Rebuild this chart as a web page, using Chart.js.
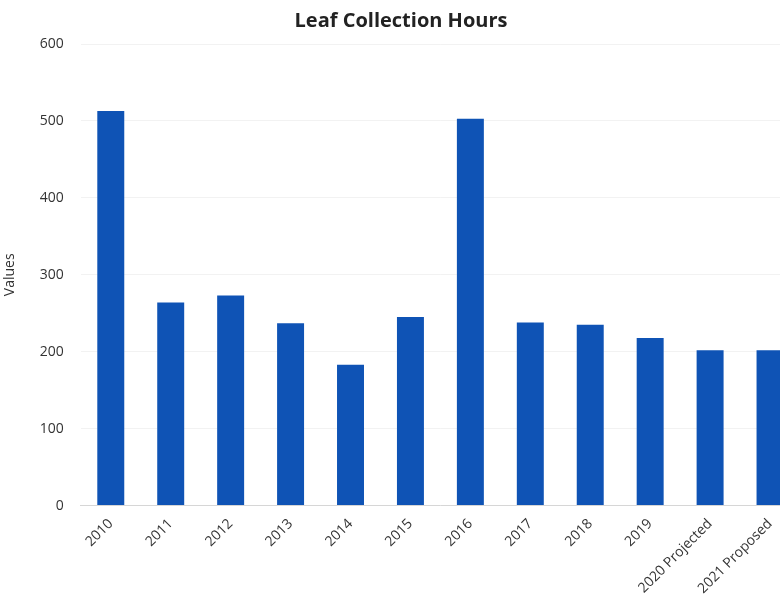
<!DOCTYPE html>
<html>
<head>
<meta charset="utf-8">
<script src="https://cdn.jsdelivr.net/npm/chart.js@4"></script>
<style>
  html, body { margin: 0; padding: 0; background: #fff; overflow: hidden; }
  #wrap { width: 800px; height: 601px; position: relative; }
</style>
</head>
<body>
<div id="wrap"><canvas id="chart"></canvas></div>
<script>
const years = ['2010', '2011', '2012', '2013', '2014', '2015', '2016', '2017', '2018', '2019', '2020 Projected', '2021 Proposed'];
const hours = [513, 264, 273, 237, 183, 245, 503, 238, 235, 218, 202, 202];
const yTicks = [0, 100, 200, 300, 400, 500, 600];

const ctx = document.getElementById('chart').getContext('2d');
const myChart = new Chart(ctx, {
    type: 'bar',
    data: {
        labels: years,
        datasets: [{
            label: 'Hours',
            data: hours,
            backgroundColor: '#0f53b5',
            barPercentage: 0.9,
            categoryPercentage: 0.5
        }]
    },
    options: {
        responsive: true,
        maintainAspectRatio: false,
        animation: false,
        layout: { padding: { top: 2, left: 2, right: 0, bottom: 2 } },
        plugins: {
            legend: { display: false },
            tooltip: { enabled: false },
            title: {
                display: true,
                text: 'Leaf Collection Hours',
                color: '#222',
                font: { family: 'Open Sans', size: 20, weight: 'bold' },
                padding: { top: 7, bottom: 11 }
            }
        },
        scales: {
            x: {
                grid: { display: false },
                border: { color: '#d6d6d6' },
                ticks: {
                    color: '#333',
                    font: { family: 'Open Sans', size: 14 },
                    minRotation: 45,
                    maxRotation: 45,
                    padding: 2
                }
            },
            y: {
                min: 0,
                max: 600,
                afterBuildTicks: axis => { axis.ticks = yTicks.map(v => ({ value: v })); },
                grid: { color: 'rgba(0,0,0,0.05)', drawTicks: false },
                border: { display: false },
                ticks: {
                    color: '#333',
                    font: { family: 'Open Sans', size: 14 },
                    padding: 17
                },
                title: {
                    display: true,
                    text: 'Values',
                    color: '#333',
                    font: { family: 'Open Sans', size: 14 },
                    padding: { top: 0, bottom: 4 }
                }
            }
        }
    }
});
</script>
</body>
</html>
